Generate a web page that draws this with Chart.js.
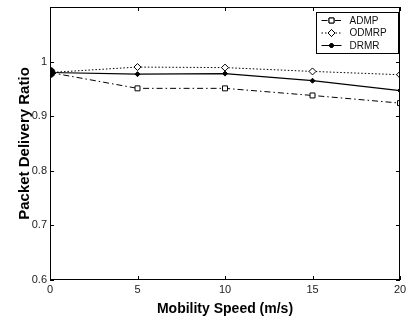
<!DOCTYPE html>
<html><head><meta charset="utf-8">
<script src="https://cdn.jsdelivr.net/npm/chart.js@4/dist/chart.umd.min.js"></script>
<style>html,body{margin:0;padding:0;background:#fff}#wrap{width:406px;height:321px}</style>
</head><body><div id="wrap"><canvas id="c" width="406" height="321"></canvas></div>
<script>
const speeds = [0, 5, 10, 15, 20];
const admp  = [0.980, 0.951, 0.951, 0.938, 0.924];
const odmrp = [0.980, 0.990, 0.989, 0.982, 0.976];
const drmr  = [0.980, 0.977, 0.978, 0.965, 0.947];
const seriesNames = ['ADMP', 'ODMRP', 'DRMR'];
const xTicks = [0, 5, 10, 15, 20];
const yTicks = [0.6, 0.7, 0.8, 0.9, 1.0, 1.1];

const toXY = arr => arr.map((v,i)=>({x:speeds[i], y:v}));

const inwardTicks = {
  id:'inwardTicks',
  afterDatasetsDraw(chart){
    const {ctx, chartArea:a, scales:{x,y}} = chart;
    ctx.save();
    ctx.strokeStyle='#000'; ctx.lineWidth=1;
    ctx.beginPath();
    xTicks.forEach(v=>{const px=Math.round(x.getPixelForValue(v))+0.5;
      ctx.moveTo(px,a.bottom); ctx.lineTo(px,a.bottom-4);
      ctx.moveTo(px,a.top); ctx.lineTo(px,a.top+4);});
    yTicks.forEach(v=>{const py=Math.round(y.getPixelForValue(v))+0.5;
      ctx.moveTo(a.left,py); ctx.lineTo(a.left+4,py);
      ctx.moveTo(a.right,py); ctx.lineTo(a.right-4,py);});
    ctx.stroke();
    ctx.strokeRect(a.left+0.5,a.top+0.5,a.right-a.left-1,a.bottom-a.top-1);
    ctx.restore();
  }
};

const boxLegend = {
  id:'boxLegend',
  afterDraw(chart){
    const {ctx} = chart;
    const bx=316.5, by=12.5, bw=82, bh=41;
    ctx.save();
    ctx.fillStyle='#fff'; ctx.fillRect(bx,by,bw,bh);
    ctx.strokeStyle='#000'; ctx.lineWidth=1; ctx.setLineDash([]);
    ctx.strokeRect(bx,by,bw,bh);
    ctx.font='10px "Liberation Sans", Arial, sans-serif';
    ctx.textBaseline='middle'; ctx.fillStyle='#111';
    chart.data.datasets.forEach((ds,i)=>{
      const yy = by + 8 + i*12.5;
      ctx.beginPath(); ctx.setLineDash(ds.borderDash||[]);
      ctx.moveTo(bx+5,yy); ctx.lineTo(bx+25,yy); ctx.stroke();
      ctx.setLineDash([]);
      const style = Array.isArray(ds.pointStyle)?ds.pointStyle[1]:ds.pointStyle;
      const r = Array.isArray(ds.pointRadius)?ds.pointRadius[1]:ds.pointRadius;
      Chart.helpers.drawPoint(ctx,{pointStyle:style,radius:r,borderWidth:1},bx+15,yy);
      ctx.fillStyle = ds.pointBackgroundColor; ctx.fill();
      ctx.strokeStyle='#000'; ctx.stroke();
      ctx.fillStyle='#111';
      ctx.fillText(ds.label,bx+33,yy+0.5);
    });
    ctx.restore();
  }
};

new Chart(document.getElementById('c'),{
  type:'line',
  data:{datasets:[
    {label:seriesNames[0],data:toXY(admp),borderColor:'#000',borderWidth:1,borderDash:[6,3,1.5,3],
     pointStyle:'rect',pointRadius:[0,3.5,3.5,3.5,3.5],pointBackgroundColor:'#fff',pointBorderColor:'#000',pointBorderWidth:1},
    {label:seriesNames[1],data:toXY(odmrp),borderColor:'#000',borderWidth:1,borderDash:[1.5,2],
     pointStyle:'rectRot',pointRadius:[0,3.5,3.5,3.5,3.5],pointBackgroundColor:'#fff',pointBorderColor:'#000',pointBorderWidth:1},
    {label:seriesNames[2],data:toXY(drmr),borderColor:'#000',borderWidth:1.2,borderDash:[],
     pointStyle:['circle','rectRot','rectRot','rectRot','rectRot'],pointRadius:[5,2.5,2.5,2.5,2.5],pointBackgroundColor:'#000',pointBorderColor:'#000',pointBorderWidth:1}
  ]},
  options:{
    responsive:false,animation:false,
    layout:{padding:{top:7,right:4,left:0,bottom:0}},
    plugins:{legend:{display:false},tooltip:{enabled:false}},
    scales:{
      x:{type:'linear',min:0,max:20,
        afterBuildTicks:s=>{s.ticks=xTicks.map(v=>({value:v}));},
        afterFit:s=>{s.height=41;s.paddingLeft=0;s.paddingRight=0;},
        grid:{display:false,drawTicks:false},border:{display:false},
        ticks:{padding:3,color:'#222',font:{family:'"Liberation Sans", Arial, sans-serif',size:11},maxRotation:0},
        title:{display:true,text:'Mobility Speed (m/s)',color:'#000',padding:{top:0,bottom:3},
          font:{family:'"Liberation Sans", Arial, sans-serif',size:14,weight:'bold'}}},
      y:{type:'linear',min:0.6,max:1.1,
        afterBuildTicks:s=>{s.ticks=yTicks.map(v=>({value:v}));},
        afterFit:s=>{s.width=50;s.paddingTop=0;s.paddingBottom=0;},
        grid:{display:false,drawTicks:false},border:{display:false},
        ticks:{padding:3,color:'#222',font:{family:'"Liberation Sans", Arial, sans-serif',size:11},
          callback:v=>(Math.abs(v-1.1)<1e-9?'':(Math.abs(v-1)<1e-9?'1':v.toFixed(1)))},
        title:{display:true,text:'Packet Delivery Ratio',color:'#000',padding:{top:16,bottom:0},
          font:{family:'"Liberation Sans", Arial, sans-serif',size:15,weight:'bold'}}}
    }
  },
  plugins:[inwardTicks,boxLegend]
});
</script></body></html>
